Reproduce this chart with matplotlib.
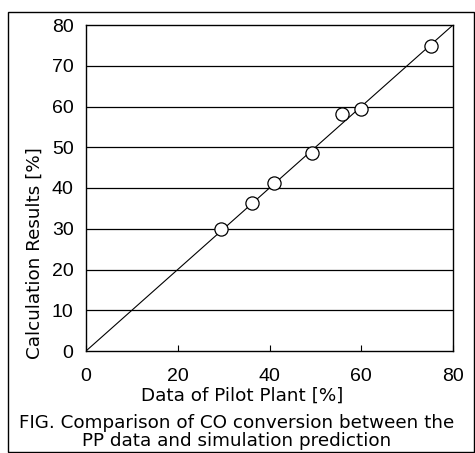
import matplotlib
matplotlib.use("Agg")
import matplotlib.pyplot as plt
from matplotlib.patches import Rectangle

# pilot plant data vs calculation results [%]
pilot_plant = [29.4, 36.2, 40.9, 49.2, 55.9, 59.9, 75.3]
calc_results = [29.9, 36.4, 41.3, 48.7, 58.1, 59.3, 74.9]
diag = [0, 80]
ticks = [0, 20, 40, 60, 80]
yticks = [0, 10, 20, 30, 40, 50, 60, 70, 80]

plt.rcParams['font.family'] = ['Liberation Sans', 'DejaVu Sans']

W, H = 475, 453
fig = plt.figure(figsize=(W / 100, H / 100), dpi=100)
ax = fig.add_axes([86 / W, 1 - 351 / H, 367 / W, 326 / H])

for y in yticks[1:-1]:
    ax.axhline(y, color='black', lw=0.9, zorder=1)

ax.plot(diag, diag, color='black', lw=0.8, zorder=2)
ax.plot(pilot_plant, calc_results, 'o', ms=9.5, mfc='white', mec='black',
        mew=0.9, zorder=3)

ax.set_xlim(0, 80)
ax.set_ylim(0, 80)
ax.set_xticks(ticks)
ax.set_yticks(yticks)
ax.tick_params(axis='x', direction='in', length=4, width=0.8, labelsize=14, pad=12)
ax.tick_params(axis='y', length=0, labelsize=14, pad=9)
for s in ax.spines.values():
    s.set_linewidth(1.0)

lab = dict(fontsize=13.2, family='DejaVu Sans', ha='center', va='center')
fig.text(242 / W, 1 - 396 / H, 'Data of Pilot Plant [%]', **lab)
fig.text(35 / W, 1 - 253 / H, 'Calculation Results [%]', rotation=90, **lab)
fig.text(237 / W, 1 - 423 / H, 'FIG. Comparison of CO conversion between the', **lab)
fig.text(237 / W, 1 - 441 / H, 'PP data and simulation prediction', **lab)

fig.patches.append(Rectangle((8 / W, 0.002), 466 / W, 1 - 12 / H - 0.002,
                             transform=fig.transFigure, fill=False,
                             edgecolor='black', lw=1.0))

fig.savefig('out.png', dpi=100)
